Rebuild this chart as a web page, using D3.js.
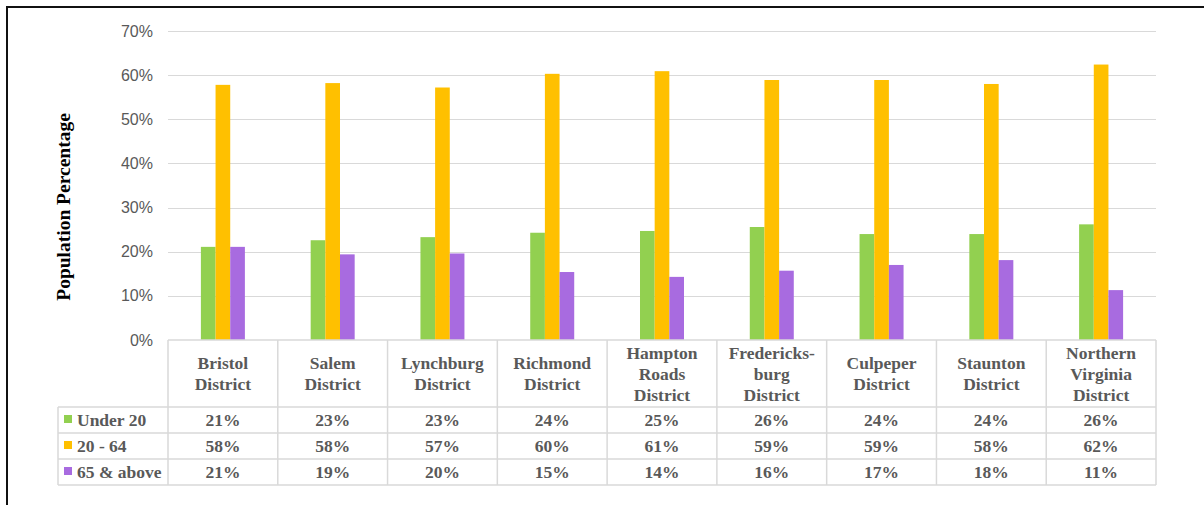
<!DOCTYPE html>
<html>
<head>
<meta charset="utf-8">
<script src="https://cdn.jsdelivr.net/npm/d3@7"></script>
<style>
  body { margin: 0; background: #fff; }
  svg { display: block; }
</style>
</head>
<body>
<svg width="1204" height="505"></svg>
<script>
"use strict";

// district names, one entry per header line
const districts = [
    ["Bristol", "District"],
    ["Salem", "District"],
    ["Lynchburg", "District"],
    ["Richmond", "District"],
    ["Hampton", "Roads", "District"],
    ["Fredericks-", "burg", "District"],
    ["Culpeper", "District"],
    ["Staunton", "District"],
    ["Northern", "Virginia", "District"]
];

const seriesNames = ["Under 20", "20 - 64", "65 & above"];

const under20 = [0.211, 0.226, 0.233, 0.243, 0.247, 0.256, 0.240, 0.240, 0.262];
const age20to64 = [0.578, 0.582, 0.572, 0.603, 0.609, 0.589, 0.589, 0.580, 0.624];
const over65 = [0.211, 0.194, 0.196, 0.154, 0.143, 0.157, 0.170, 0.181, 0.113];

const yTicks = [0, 0.1, 0.2, 0.3, 0.4, 0.5, 0.6, 0.7];

const colors = ["#92d050", "#ffc000", "#a86be0"];

window.addEventListener("load", drawChart);

function drawChart() {
    const svg = d3.select("svg");
    const series = [under20, age20to64, over65];
    const keys = districts.map(d => d.join(" "));

    const left = 168, right = 1156, top = 31, bottom = 340;
    const rowH = 26, headerBottom = 407, legendLeft = 58;
    const grid = "#d9d9d9";
    const serif = "'Liberation Serif', 'Times New Roman', serif";

    // outer frame
    svg.append("rect")
        .attr("x", 7).attr("y", 7)
        .attr("width", 1260).attr("height", 560)
        .attr("fill", "none")
        .attr("stroke", "#111")
        .attr("stroke-width", 2);

    const x = d3.scaleBand()
        .domain(keys)
        .range([left, right]);

    const xInner = d3.scaleBand()
        .domain(seriesNames)
        .range([0, 44]);

    const y = d3.scaleLinear()
        .domain([0, 0.7])
        .range([bottom, top]);

    // gridlines
    svg.append("g")
        .selectAll("line")
        .data(yTicks.slice(1))
        .join("line")
            .attr("x1", left).attr("x2", right)
            .attr("y1", d => Math.round(y(d)) + 0.5)
            .attr("y2", d => Math.round(y(d)) + 0.5)
            .attr("stroke", grid)
            .attr("stroke-width", 1.2);

    // y tick labels
    const yAxis = svg.append("g")
        .attr("transform", `translate(${left}, 0)`)
        .call(d3.axisLeft(y).tickValues(yTicks).tickFormat(d3.format(".0%")).tickSize(0).tickPadding(15));
    yAxis.select(".domain").remove();
    yAxis.selectAll("text")
        .attr("font-size", 16)
        .attr("font-family", "'Liberation Sans', Arial, sans-serif")
        .attr("fill", "#595959");

    // y title
    svg.append("text")
        .attr("transform", `translate(70, 207) rotate(-90)`)
        .attr("text-anchor", "middle")
        .attr("font-family", serif)
        .attr("font-weight", "bold")
        .attr("font-size", 19.5)
        .attr("fill", "#000")
        .text("Population Percentage");

    // bars
    const groups = svg.append("g")
        .selectAll("g")
        .data(keys)
        .join("g")
            .attr("transform", d => `translate(${x(d) + x.bandwidth() / 2 - 22}, 0)`);

    groups.selectAll("rect")
        .data((d, i) => seriesNames.map((s, j) => ({s: s, v: series[j][i], c: colors[j]})))
        .join("rect")
            .attr("x", d => xInner(d.s))
            .attr("width", xInner.bandwidth())
            .attr("y", d => y(d.v))
            .attr("height", d => y(0) - y(d.v))
            .attr("fill", d => d.c);

    // data table lines
    const tableBottom = headerBottom + rowH * 3;
    const lines = svg.append("g")
        .attr("stroke", grid)
        .attr("stroke-width", 1.5);

    lines.append("line")
        .attr("x1", left).attr("x2", right)
        .attr("y1", bottom).attr("y2", bottom);

    lines.selectAll(".hrow")
        .data([0, 1, 2, 3])
        .join("line")
            .attr("class", "hrow")
            .attr("x1", legendLeft).attr("x2", right)
            .attr("y1", d => headerBottom + d * rowH)
            .attr("y2", d => headerBottom + d * rowH);

    lines.selectAll(".vcol")
        .data(keys.map(k => x(k)).concat([right]))
        .join("line")
            .attr("class", "vcol")
            .attr("x1", d => d).attr("x2", d => d)
            .attr("y1", bottom).attr("y2", tableBottom);

    lines.append("line")
        .attr("x1", legendLeft).attr("x2", legendLeft)
        .attr("y1", headerBottom).attr("y2", tableBottom);

    // header labels
    const headerMid = (bottom + headerBottom) / 2;
    svg.append("g")
        .selectAll("text")
        .data(districts)
        .join("text")
            .attr("text-anchor", "middle")
            .attr("font-family", serif)
            .attr("font-weight", "bold")
            .attr("font-size", 17.5)
            .attr("fill", "#595959")
            .each(function(lns, i) {
                const t = d3.select(this);
                const cx = x(keys[i]) + x.bandwidth() / 2;
                lns.forEach((ln, k) => {
                    t.append("tspan")
                        .attr("x", cx)
                        .attr("y", headerMid + (k - (lns.length - 1) / 2) * 21 + 6)
                        .text(ln);
                });
            });

    // value rows
    const fmt = d3.format(".0%");
    seriesNames.forEach((name, j) => {
        const rowMid = headerBottom + rowH * j + rowH / 2;
        const row = svg.append("g");

        row.append("rect")
            .attr("x", 64).attr("y", rowMid - 5)
            .attr("width", 8).attr("height", 8)
            .attr("fill", colors[j]);

        row.append("text")
            .attr("x", 77).attr("y", rowMid + 6)
            .attr("font-family", serif)
            .attr("font-weight", "bold")
            .attr("font-size", 17.5)
            .attr("fill", "#595959")
            .text(name);

        row.selectAll(".val")
            .data(series[j])
            .join("text")
                .attr("class", "val")
                .attr("x", (d, i) => x(keys[i]) + x.bandwidth() / 2)
                .attr("y", rowMid + 6)
                .attr("text-anchor", "middle")
                .attr("font-family", serif)
                .attr("font-weight", "bold")
                .attr("font-size", 17.5)
                .attr("fill", "#595959")
                .text(d => fmt(d));
    });
}
</script>
</body>
</html>
